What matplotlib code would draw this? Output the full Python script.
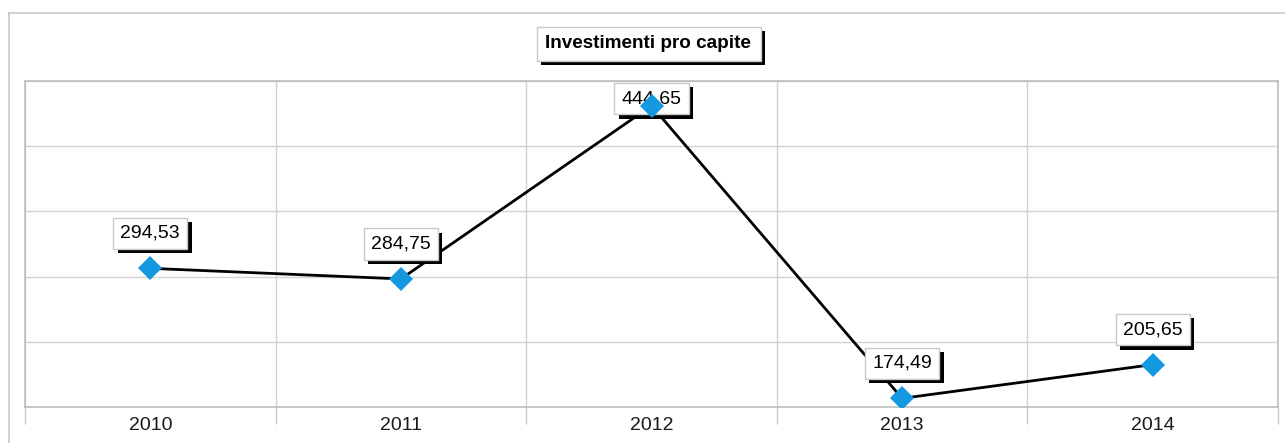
import numpy as np
import matplotlib
matplotlib.use('Agg')
import matplotlib.pyplot as plt
import matplotlib.patheffects as pe
from matplotlib.lines import Line2D
from matplotlib.patches import Rectangle

plt.rcParams['font.family'] = ['Liberation Sans', 'DejaVu Sans']

# dati
anni = ['2010', '2011', '2012', '2013', '2014']
investimenti = [294.53, 284.75, 444.65, 174.49, 205.65]
titolo = 'Investimenti pro capite'

W, H = 1285, 443
fig = plt.figure(figsize=(W / 100, H / 100), dpi=100)
fig.patch.set_facecolor('white')

# cornice esterna
fig.add_artist(Line2D([9 / W, 1], [1 - 13 / H, 1 - 13 / H], transform=fig.transFigure,
                      color='#c8c8c8', lw=1.2))
fig.add_artist(Line2D([9 / W, 9 / W], [0, 1 - 13 / H], transform=fig.transFigure,
                      color='#c8c8c8', lw=1.2))

ax = fig.add_axes([25 / W, 1 - 407 / H, (1278 - 25) / W, (407 - 81) / H])

x = np.arange(len(anni))
ymin, ymax = 166.5, 467.5
ax.set_xlim(-0.5, len(anni) - 0.5)
ax.set_ylim(ymin, ymax)

# griglia
ax.set_yticks(np.linspace(ymin, ymax, 6))
ax.set_yticklabels([])
ax.tick_params(axis='y', length=0)
ax.set_xticks(x)
ax.set_xticklabels(anni, fontsize=14, color='#1a1a1a')
ax.set_xticks(np.arange(-0.5, len(anni), 1), minor=True)
ax.tick_params(axis='x', which='major', length=0, pad=7)
ax.tick_params(axis='x', which='minor', length=12, width=1, color='#c8c8c8', direction='out')
ax.grid(True, which='minor', axis='x', color='#d2d2d2', lw=1)
ax.grid(True, which='major', axis='y', color='#d2d2d2', lw=1)
ax.set_axisbelow(True)
for s in ax.spines.values():
    s.set_color('#bdbdbd')
    s.set_linewidth(1.2)

# linea e marcatori
ax.plot(x, investimenti, color='black', lw=2, zorder=2)
ax.plot(x, investimenti, linestyle='none', marker='D', ms=12, color='#1499e0',
        markeredgewidth=0, zorder=5)

ombra = [pe.SimplePatchShadow(offset=(3.2, -3.2), shadow_rgbFace='black', alpha=1), pe.Normal()]

# etichette dati
fig.canvas.draw()
top_px = ax.transAxes.transform((0, 1))[1]
for xi, v in zip(x, investimenti):
    py = ax.transData.transform((xi, v))[1]
    off = min(35, top_px - 17.5 - py)
    t = ax.annotate(f'{v:.2f}'.replace('.', ','), (xi, v),
                    xytext=(0, off * 72 / 100), textcoords='offset points',
                    ha='center', va='center', fontsize=14, zorder=4,
                    bbox=dict(boxstyle='square,pad=0.37', fc='white', ec='#c8c8c8', lw=1))
    t.get_bbox_patch().set_path_effects(ombra)

# titolo
box = Rectangle((537 / W, 1 - 61 / H), (761 - 537) / W, 34 / H, transform=fig.transFigure,
                fc='white', ec='#c8c8c8', lw=1, zorder=3)
box.set_path_effects(ombra)
fig.add_artist(box)
fig.text(648 / W, 1 - 44 / H, titolo, ha='center', va='center', fontsize=13.6,
         fontweight='bold', zorder=4)

fig.savefig('out.png', dpi=100)
